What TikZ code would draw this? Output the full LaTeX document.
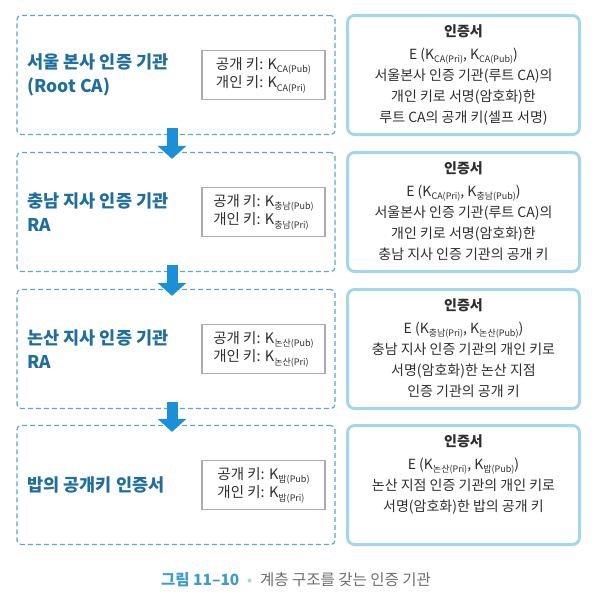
\documentclass[tikz,border=0pt]{standalone}
\usepackage{fontspec}
\setmainfont{Noto Sans CJK KR}
\usetikzlibrary{arrows.meta, positioning}
\definecolor{titleblue}{HTML}{1F6E9E}
\definecolor{dashblue}{HTML}{5AA9CC}
\definecolor{certblue}{HTML}{A3D6EE}
\definecolor{flowblue}{HTML}{1C8FD9}
\definecolor{capblue}{HTML}{3C9CCB}
\definecolor{textgray}{HTML}{2E2E2E}
\newcommand{\ksub}[1]{K\raisebox{-0.45ex}{\fontsize{9}{9}\selectfont #1}}

\begin{document}
\begin{tikzpicture}[x=1pt, y=-1pt,
  levelbox/.style={draw=dashblue, dash pattern=on 5pt off 3pt, line width=1.2pt,
    rounded corners=4pt, minimum width=318pt, minimum height=119pt},
  leveltitle/.style={anchor=west, align=left, text=titleblue,
    font=\fontsize{17.5}{24}\selectfont\bfseries},
  keybox/.style={draw=gray!65, line width=1.3pt, minimum width=123pt,
    minimum height=49pt, inner sep=2pt, align=left, text=textgray,
    font=\fontsize{14.5}{17}\selectfont},
  certbox/.style={draw=certblue, line width=3pt, rounded corners=7pt,
    minimum width=232pt, minimum height=119pt},
  certtext/.style={anchor=north, align=center, text=textgray,
    font=\fontsize{14}{21}\selectfont},
  flow/.style={draw=flowblue, line width=11pt, -{Triangle[width=28pt, length=13pt]}}]
  \useasboundingbox (0,0) rectangle (595,598);

  % Root CA row
  \node[levelbox] (lb1) at (176,75) {};
  \node[leveltitle] (t1) at (24,75) {서울 본사 인증 기관\\(Root CA)};
  \node[keybox] (k1) at (263.5,75) {공개 키: \ksub{CA(Pub)}\\개인 키: \ksub{CA(Pri)}};
  \node[certbox] (c1) at (463.5,75) {};
  \node[certtext, below=7pt of c1.north] (ct1) {{\bfseries 인증서}\\[2pt]
    E (\ksub{CA(Pri)}, \ksub{CA(Pub)})\\서울본사 인증 기관(루트 CA)의\\
    개인 키로 서명(암호화)한\\루트 CA의 공개 키(셀프 서명)};

  % Chungnam RA row
  \node[levelbox] (lb2) at (176,212) {};
  \node[leveltitle] (t2) at (24,212) {충남 지사 인증 기관\\RA};
  \node[keybox] (k2) at (263.5,212) {공개 키: \ksub{충남(Pub)}\\개인 키: \ksub{충남(Pri)}};
  \node[certbox] (c2) at (463.5,212) {};
  \node[certtext, below=7pt of c2.north] (ct2) {{\bfseries 인증서}\\[2pt]
    E (\ksub{CA(Pri)}, \ksub{충남(Pub)})\\서울본사 인증 기관(루트 CA)의\\
    개인 키로 서명(암호화)한\\충남 지사 인증 기관의 공개 키};

  % Nonsan RA row
  \node[levelbox] (lb3) at (176,349) {};
  \node[leveltitle] (t3) at (24,349) {논산 지사 인증 기관\\RA};
  \node[keybox] (k3) at (263.5,349) {공개 키: \ksub{논산(Pub)}\\개인 키: \ksub{논산(Pri)}};
  \node[certbox] (c3) at (463.5,349) {};
  \node[certtext, below=7pt of c3.north] (ct3) {{\bfseries 인증서}\\[2pt]
    E (\ksub{충남(Pri)}, \ksub{논산(Pub)})\\충남 지사 인증 기관의 개인 키로\\
    서명(암호화)한 논산 지점\\인증 기관의 공개 키};

  % Bob certificate row
  \node[levelbox] (lb4) at (176,485) {};
  \node[leveltitle] (t4) at (24,485) {밥의 공개키 인증서};
  \node[keybox] (k4) at (263.5,485) {공개 키: \ksub{밥(Pub)}\\개인 키: \ksub{밥(Pri)}};
  \node[certbox] (c4) at (463.5,485) {};
  \node[certtext, below=7pt of c4.north] (ct4) {{\bfseries 인증서}\\[2pt]
    E (\ksub{논산(Pri)}, \ksub{밥(Pub)})\\논산 지점 인증 기관의 개인 키로\\
    서명(암호화)한 밥의 공개 키};

  % arrows down the hierarchy
  \foreach \i/\j in {1/2, 2/3, 3/4}
    \draw[flow] ([xshift=-4pt, yshift=7pt]lb\i.south) -- ([xshift=-4pt, yshift=-7pt]lb\j.north);

  \node[font=\fontsize{15.5}{18}\selectfont, text=gray!85!black] (cap) at (296,580)
    {{\color{capblue}\bfseries 그림 11–10}\enspace{\color{certblue}•}\enspace 계층 구조를 갖는 인증 기관};
\end{tikzpicture}
\end{document}
